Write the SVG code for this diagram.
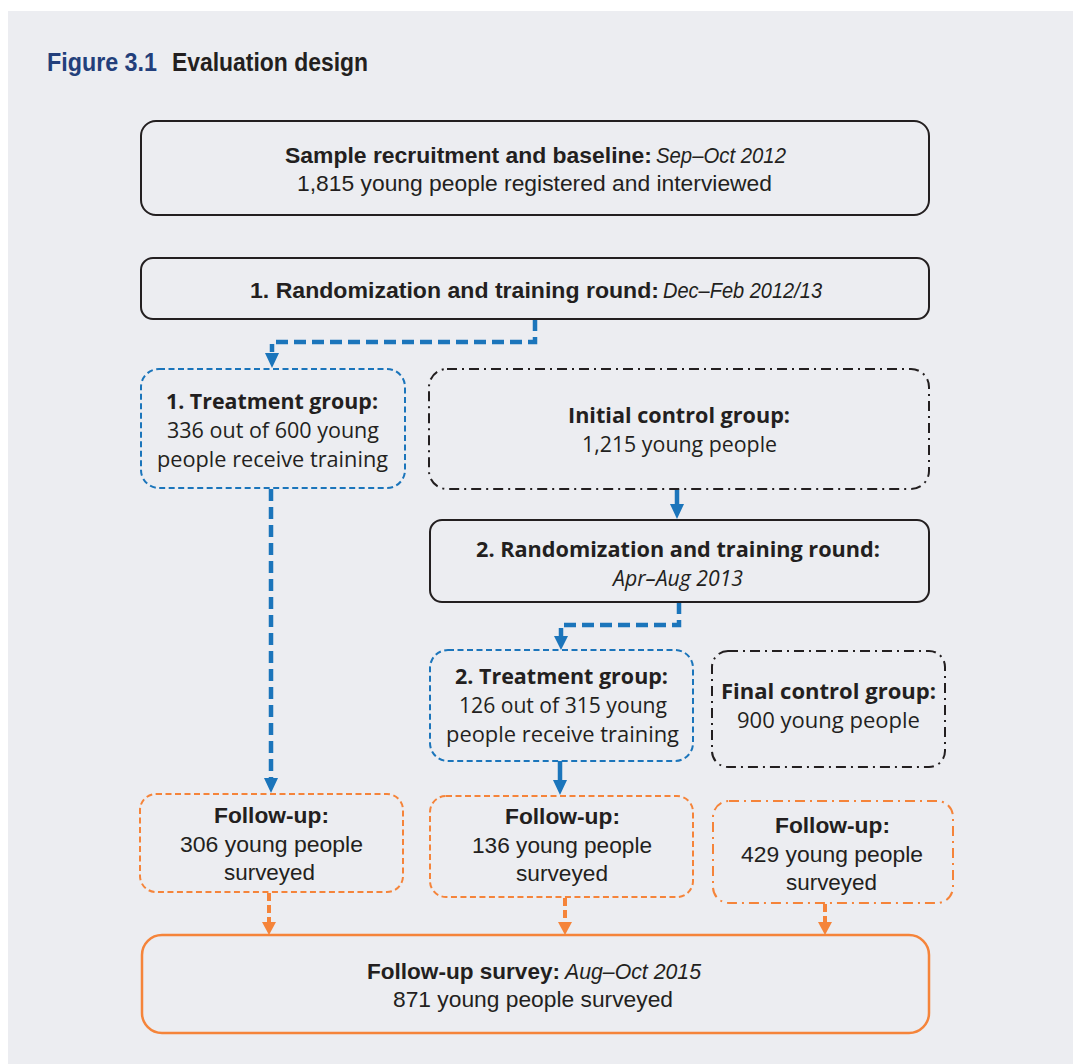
<svg xmlns="http://www.w3.org/2000/svg" width="1073" height="1064" viewBox="0 0 1073 1064">
<style>
text{fill:#231f20;font-size:20px;}
.c{font-family:"Liberation Sans",Arial,sans-serif;font-size:22px;}
.r{font-family:"Open Sans","Noto Sans",sans-serif;font-size:21px;}
.b{font-weight:bold;}
.i{font-style:italic;}
.solid{fill:none;stroke:#231f20;stroke-width:2;}
.dashdot{fill:none;stroke:#231f20;stroke-width:2;stroke-dasharray:10 5 2 5;}
.bluedash{fill:none;stroke:#1b75bb;stroke-width:2;stroke-dasharray:6 3.5;}
.ordash{fill:none;stroke:#f5843a;stroke-width:2;stroke-dasharray:6 3.5;}
.ordashdot{fill:none;stroke:#f5843a;stroke-width:2;stroke-dasharray:10 5 2 5;}
.orsolid{fill:none;stroke:#f5843a;stroke-width:2.5;}
.cb{fill:none;stroke:#1b75bb;stroke-width:4.5;stroke-dasharray:12 6;}
.cbs{fill:none;stroke:#1b75bb;stroke-width:4.5;}
.co{fill:none;stroke:#f5843a;stroke-width:4;stroke-dasharray:8 4;}
.ttl{font-family:"Liberation Sans",Arial,sans-serif;font-weight:bold;font-size:26px;}
</style>
<rect x="0" y="0" width="1073" height="1064" fill="#ffffff"/>
<rect x="8" y="11" width="1065" height="1053" fill="#ecedf1"/>
<g id="title">
<text class="ttl" x="47" y="71" textLength="110" lengthAdjust="spacingAndGlyphs" style="fill:#233f7b">Figure 3.1</text>
<text class="ttl" x="172" y="71" textLength="196" lengthAdjust="spacingAndGlyphs">Evaluation design</text>
</g>
<g id="connectors">
<path class="cb" d="M535,319 V342 H272 V352" />
<path d="M265,353 L272,368 L279,353 Z" fill="#1b75bb"/>
<path class="cbs" d="M677,489 V505"/>
<path d="M670,504 L677,519 L684,504 Z" fill="#1b75bb"/>
<path class="cb" d="M679,602 V625 H561 V636"/>
<path d="M554,636 L561,650 L568,636 Z" fill="#1b75bb"/>
<path class="cb" d="M271,489 V778"/>
<path d="M264,778 L271,793 L278,778 Z" fill="#1b75bb"/>
<path class="cbs" d="M560,761 V781"/>
<path d="M553,780 L560,795 L567,780 Z" fill="#1b75bb"/>
<path class="co" d="M269,893 V922"/>
<path d="M262,922 L269,935 L276,922 Z" fill="#f5843a"/>
<path class="co" d="M565,898 V922"/>
<path d="M558,922 L565,935 L572,922 Z" fill="#f5843a"/>
<path class="co" d="M825,904 V922"/>
<path d="M818,922 L825,935 L832,922 Z" fill="#f5843a"/>
</g>
<g id="recruitment">
<rect class="solid" x="141" y="121" width="788" height="94" rx="15"/>
<text class="c b" x="285" y="163" textLength="367" lengthAdjust="spacingAndGlyphs">Sample recruitment and baseline:</text>
<text class="c i" x="656" y="163" textLength="130" lengthAdjust="spacingAndGlyphs">Sep–Oct 2012</text>
<text class="c" x="297" y="191" textLength="475" lengthAdjust="spacingAndGlyphs">1,815 young people registered and interviewed</text>
</g>
<g id="round1">
<rect class="solid" x="141" y="258" width="788" height="61" rx="12"/>
<text class="c b" x="250" y="298" textLength="409" lengthAdjust="spacingAndGlyphs">1. Randomization and training round:</text>
<text class="c i" x="663" y="298" textLength="159" lengthAdjust="spacingAndGlyphs">Dec–Feb 2012/13</text>
</g>
<g id="treatment1">
<rect class="bluedash" x="141" y="369" width="264" height="119" rx="18"/>
<text class="r b" x="166" y="409" textLength="212" lengthAdjust="spacingAndGlyphs">1. Treatment group:</text>
<text class="r" x="167" y="438" textLength="212" lengthAdjust="spacingAndGlyphs">336 out of 600 young</text>
<text class="r" x="157" y="467" textLength="231" lengthAdjust="spacingAndGlyphs">people receive training</text>
</g>
<g id="initialcontrol">
<rect class="dashdot" x="429" y="369" width="500" height="120" rx="18"/>
<text class="r b" x="568" y="423" textLength="222" lengthAdjust="spacingAndGlyphs">Initial control group:</text>
<text class="r" x="582" y="452" textLength="195" lengthAdjust="spacingAndGlyphs">1,215 young people</text>
</g>
<g id="round2">
<rect class="solid" x="430" y="520" width="499" height="82" rx="12"/>
<text class="r b" x="476" y="557" textLength="404" lengthAdjust="spacingAndGlyphs">2. Randomization and training round:</text>
<text class="r i" x="613" y="586" textLength="130" lengthAdjust="spacingAndGlyphs">Apr–Aug 2013</text>
</g>
<g id="treatment2">
<rect class="bluedash" x="430" y="650" width="263" height="111" rx="18"/>
<text class="r b" x="455" y="684" textLength="213" lengthAdjust="spacingAndGlyphs">2. Treatment group:</text>
<text class="r" x="459" y="713" textLength="208" lengthAdjust="spacingAndGlyphs">126 out of 315 young</text>
<text class="r" x="446" y="742" textLength="233" lengthAdjust="spacingAndGlyphs">people receive training</text>
</g>
<g id="finalcontrol">
<rect class="dashdot" x="712" y="651" width="233" height="116" rx="16"/>
<text class="r b" x="721" y="699" textLength="215" lengthAdjust="spacingAndGlyphs">Final control group:</text>
<text class="r" x="737" y="728" textLength="183" lengthAdjust="spacingAndGlyphs">900 young people</text>
</g>
<g id="followup1">
<rect class="ordash" x="140" y="794" width="263" height="98" rx="16"/>
<text class="c b" x="214" y="823" textLength="115" lengthAdjust="spacingAndGlyphs">Follow-up:</text>
<text class="c" x="180" y="852" textLength="183" lengthAdjust="spacingAndGlyphs">306 young people</text>
<text class="c" x="224" y="880" textLength="91" lengthAdjust="spacingAndGlyphs">surveyed</text>
</g>
<g id="followup2">
<rect class="ordash" x="430" y="796" width="263" height="101" rx="16"/>
<text class="c b" x="505" y="824" textLength="115" lengthAdjust="spacingAndGlyphs">Follow-up:</text>
<text class="c" x="472" y="853" textLength="180" lengthAdjust="spacingAndGlyphs">136 young people</text>
<text class="c" x="516" y="881" textLength="92" lengthAdjust="spacingAndGlyphs">surveyed</text>
</g>
<g id="followup3">
<rect class="ordashdot" x="713" y="801" width="240" height="102" rx="16"/>
<text class="c b" x="775" y="833" textLength="115" lengthAdjust="spacingAndGlyphs">Follow-up:</text>
<text class="c" x="741" y="862" textLength="182" lengthAdjust="spacingAndGlyphs">429 young people</text>
<text class="c" x="786" y="890" textLength="91" lengthAdjust="spacingAndGlyphs">surveyed</text>
</g>
<g id="followupsurvey">
<rect class="orsolid" x="142" y="935" width="787" height="98" rx="20"/>
<text class="c b" x="367" y="979" textLength="193" lengthAdjust="spacingAndGlyphs">Follow-up survey:</text>
<text class="c i" x="565" y="979" textLength="136" lengthAdjust="spacingAndGlyphs">Aug–Oct 2015</text>
<text class="c" x="393" y="1007" textLength="280" lengthAdjust="spacingAndGlyphs">871 young people surveyed</text>
</g>
</svg>
